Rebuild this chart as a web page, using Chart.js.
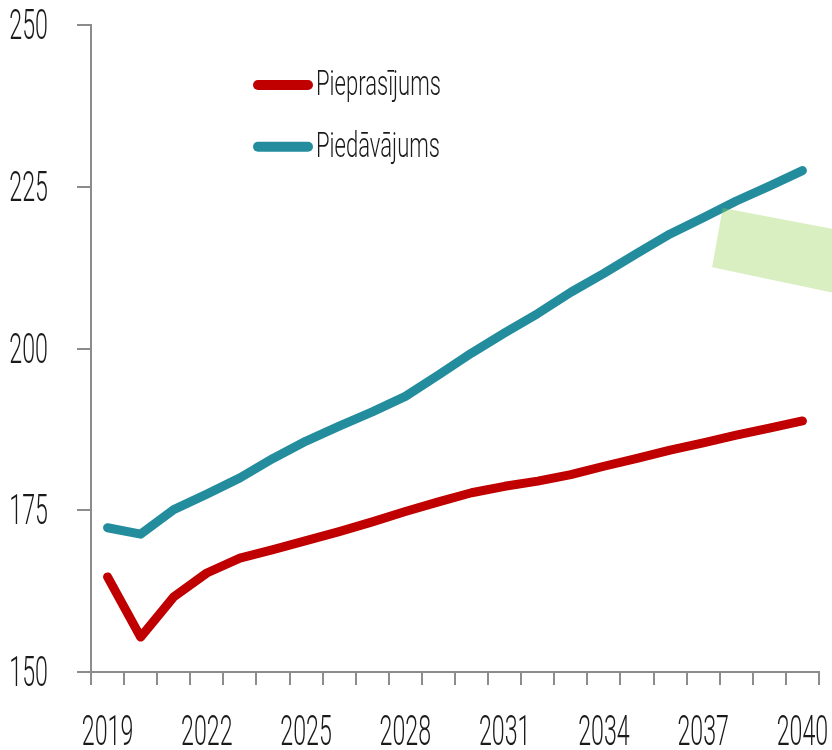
<!DOCTYPE html>
<html>
<head>
<meta charset="utf-8">
<script src="https://cdn.jsdelivr.net/npm/chart.js@4.4.1/dist/chart.umd.min.js"></script>
<style>
  html, body { margin: 0; padding: 0; background: #fff; }
  #chart { display: block; }
</style>
</head>
<body>
<canvas id="chart" width="832" height="750"></canvas>
<script>
// Data
const years = ['2019', '2020', '2021', '2022', '2023', '2024', '2025', '2026', '2027', '2028', '2029',
               '2030', '2031', '2032', '2033', '2034', '2035', '2036', '2037', '2038', '2039', '2040'];
const labelledYears = ['2019', '2022', '2025', '2028', '2031', '2034', '2037', '2040'];
const yTicks = [150, 175, 200, 225, 250];

const demand = [164.7, 155.4, 161.6, 165.3, 167.6, 168.9, 170.3, 171.7, 173.2, 174.8, 176.3,
                177.7, 178.7, 179.5, 180.5, 181.8, 183.0, 184.3, 185.4, 186.6, 187.7, 188.8];
const supply = [172.3, 171.3, 175.1, 177.5, 180.0, 183.0, 185.7, 188.0, 190.2, 192.6, 195.9,
                199.3, 202.4, 205.4, 208.7, 211.6, 214.7, 217.7, 220.2, 222.8, 225.1, 227.5];

const demandLabel = 'Pieprasījums';
const supplyLabel = 'Piedāvājums';

// Styles
const RED = '#C00000';
const TEAL = '#238D9E';
const AXIS = '#8c8c8c';
const TEXT = '#1a1a1a';
const FONT = 'Roboto, "Liberation Sans", Arial, sans-serif';

// Condensed text helper (the original uses a narrow light face)
function drawCondensed(ctx, text, x, y, align, size, sx) {
    ctx.save();
    ctx.font = '300 ' + size + 'px ' + FONT;
    ctx.fillStyle = TEXT;
    ctx.textBaseline = 'alphabetic';
    ctx.textAlign = align;
    ctx.translate(x, y);
    ctx.scale(sx, 1);
    ctx.fillText(text, 0, 0);
    ctx.restore();
}

// Light green band in the upper right (index, value corners)
const bandPlugin = {
    id: 'band',
    afterDatasetsDraw(chart) {
        const { ctx, scales: { x, y } } = chart;
        const corners = [[18.27, 212.55], [18.59, 221.7], [22.5, 217.9], [22.5, 208.0]];
        ctx.save();
        ctx.beginPath();
        corners.forEach(([i, v], k) => {
            const px = x.getPixelForValue(i);
            const py = y.getPixelForValue(v);
            if (k === 0) ctx.moveTo(px, py); else ctx.lineTo(px, py);
        });
        ctx.closePath();
        ctx.fillStyle = 'rgba(146, 208, 80, 0.35)';
        ctx.fill();
        ctx.restore();
    }
};

// Tick labels and legend
const labelsPlugin = {
    id: 'labels',
    afterDraw(chart) {
        const { ctx, scales: { x, y } } = chart;

        years.forEach((yr, i) => {
            if (labelledYears.includes(yr)) {
                drawCondensed(ctx, yr, x.getPixelForValue(i), 745, 'center', 43, 0.54);
            }
        });

        yTicks.forEach(v => {
            drawCondensed(ctx, String(v), 48, y.getPixelForValue(v) + 14, 'right', 43, 0.54);
        });

        chart.data.datasets.forEach((ds, i) => {
            const ly = 85 + i * 61.7;
            ctx.save();
            ctx.strokeStyle = ds.borderColor;
            ctx.lineWidth = 10;
            ctx.lineCap = 'round';
            ctx.beginPath();
            ctx.moveTo(258, ly);
            ctx.lineTo(308, ly);
            ctx.stroke();
            ctx.restore();
            drawCondensed(ctx, ds.label, 316, ly + 10, 'left', 35, 0.63);
        });
    }
};

const ctx = document.getElementById('chart').getContext('2d');
new Chart(ctx, {
    type: 'line',
    data: {
        labels: years,
        datasets: [
            {
                label: demandLabel,
                data: demand,
                borderColor: RED,
                backgroundColor: RED,
                borderWidth: 9,
                borderCapStyle: 'round',
                borderJoinStyle: 'round',
                pointRadius: 0,
                tension: 0
            },
            {
                label: supplyLabel,
                data: supply,
                borderColor: TEAL,
                backgroundColor: TEAL,
                borderWidth: 9,
                borderCapStyle: 'round',
                borderJoinStyle: 'round',
                pointRadius: 0,
                tension: 0
            }
        ]
    },
    options: {
        responsive: false,
        devicePixelRatio: 1,
        animation: false,
        layout: { padding: { top: 25, right: 13, left: 0, bottom: 0 } },
        plugins: {
            legend: { display: false },
            tooltip: { enabled: false }
        },
        scales: {
            x: {
                type: 'category',
                offset: true,
                grid: {
                    offset: true,
                    drawOnChartArea: false,
                    drawTicks: true,
                    tickLength: 13,
                    color: AXIS,
                    lineWidth: 2
                },
                border: { display: true, color: AXIS, width: 2 },
                ticks: { display: false, autoSkip: false },
                afterFit(scale) { scale.height = 78; }
            },
            y: {
                min: 150,
                max: 250,
                grid: {
                    drawOnChartArea: false,
                    drawTicks: true,
                    tickLength: 14,
                    color: AXIS,
                    lineWidth: 2
                },
                border: { display: true, color: AXIS, width: 2 },
                ticks: { display: false, stepSize: 25 },
                afterFit(scale) { scale.width = 91; }
            }
        }
    },
    plugins: [bandPlugin, labelsPlugin]
});
</script>
</body>
</html>
